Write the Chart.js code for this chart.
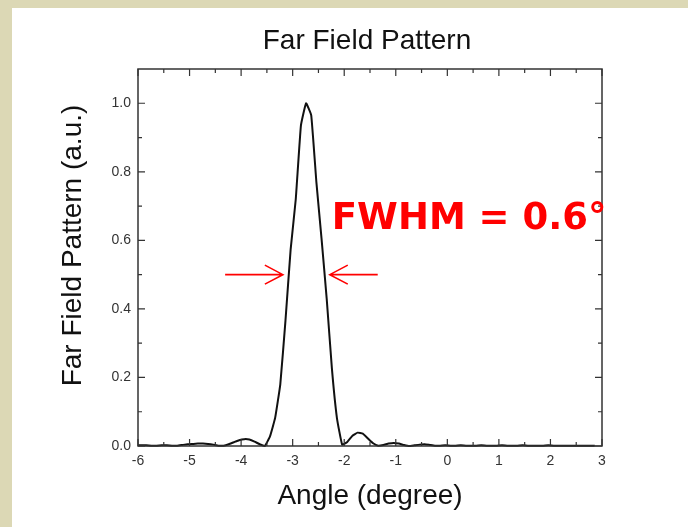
<!DOCTYPE html>
<html>
<head>
<meta charset="utf-8">
<script src="https://cdn.jsdelivr.net/npm/chart.js@4.4.1/dist/chart.umd.min.js"></script>
<style>
  html, body { margin: 0; padding: 0; background: #dcd8b5; }
  #panel { position: absolute; left: 12px; top: 8px; width: 676px; height: 519px; background: #fff; }
  canvas { display: block; }
</style>
</head>
<body>
<div id="panel"><canvas id="chart" width="676" height="519"></canvas></div>
<script>
// Angle (degree)
const angles = [
  -6.00, -5.94, -5.84, -5.74, -5.64, -5.54, -5.44, -5.34, -5.24, -5.14,
  -5.04, -4.94, -4.84, -4.74, -4.64, -4.54, -4.44, -4.34, -4.24, -4.14,
  -4.04, -3.94, -3.84, -3.74, -3.64, -3.54, -3.44, -3.34, -3.24, -3.14,
  -3.04, -2.94, -2.84, -2.74, -2.64, -2.54, -2.44, -2.34, -2.24, -2.14,
  -2.04, -1.94, -1.84, -1.74, -1.64, -1.54, -1.44, -1.34, -1.24, -1.14,
  -1.04, -0.94, -0.84, -0.74, -0.64, -0.54, -0.44, -0.34, -0.24, -0.14,
  -0.04, 0.06, 0.16, 0.26, 0.36, 0.46, 0.56, 0.66, 0.76, 0.86,
  0.96, 1.06, 1.16, 1.26, 1.36, 1.46, 1.56, 1.66, 1.76, 1.86,
  1.96, 2.06, 2.16, 2.26, 2.36, 2.46, 2.56, 2.66, 2.76, 2.86
];

// Far field pattern (a.u.)
const intensity = [
  0.002, 0.002, 0.002, 0.001, 0.001, 0.002, 0.002, 0.001, 0.001, 0.003,
  0.005, 0.006, 0.007, 0.007, 0.006, 0.004, 0.001, 0.001, 0.005, 0.011,
  0.017, 0.020, 0.019, 0.013, 0.005, 0.000, 0.028, 0.082, 0.180, 0.365,
  0.572, 0.720, 0.935, 1.000, 0.965, 0.770, 0.605, 0.430, 0.228, 0.080,
  0.004, 0.012, 0.030, 0.039, 0.036, 0.022, 0.008, 0.001, 0.003, 0.007,
  0.009, 0.007, 0.003, 0.000, 0.002, 0.004, 0.005, 0.003, 0.001, 0.001,
  0.002, 0.001, 0.001, 0.002, 0.001, 0.001, 0.001, 0.002, 0.001, 0.001,
  0.001, 0.002, 0.001, 0.001, 0.001, 0.002, 0.001, 0.001, 0.001, 0.001,
  0.002, 0.001, 0.001, 0.001, 0.001, 0.001, 0.001, 0.001, 0.001, 0.001
];

const xTicks = [-6, -5, -4, -3, -2, -1, 0, 1, 2, 3];
const yTicks = [0, 0.2, 0.4, 0.6, 0.8, 1.0];

const chartTitle = 'Far Field Pattern';
const yTitle = 'Far Field Pattern (a.u.)';

// FWHM annotation
const fwhmLabel = 'FWHM = 0.6\u00B0';
const fwhmLabelAt = [-2.24, 0.632];
const halfMax = 0.5;
const leftArrow = [-4.31, -3.19];   // tail, tip
const rightArrow = [-1.35, -2.28];  // tail, tip

const FONT = '"Liberation Sans", Arial, sans-serif';

// Titles, frame, inward ticks and the FWHM arrows
const frame = {
  id: 'frame',
  afterDatasetsDraw(chart) {
    const { ctx, chartArea: a, scales: { x, y } } = chart;
    ctx.save();

    // titles
    ctx.fillStyle = '#111';
    ctx.font = '28px ' + FONT;
    ctx.textAlign = 'center';
    ctx.textBaseline = 'middle';
    ctx.fillText(chartTitle, (a.left + a.right) / 2 - 3, 33);
    ctx.save();
    ctx.translate(61, (a.top + a.bottom) / 2 - 12);
    ctx.rotate(-Math.PI / 2);
    ctx.fillText(yTitle, 0, 0);
    ctx.restore();

    ctx.strokeStyle = '#333';
    ctx.lineWidth = 1.5;
    ctx.strokeRect(a.left, a.top, a.right - a.left, a.bottom - a.top);

    ctx.lineWidth = 1.2;
    ctx.beginPath();
    const xMinor = xTicks.slice(1).map((v, i) => (v + xTicks[i]) / 2);
    const yMinor = yTicks.slice(1).map((v, i) => (v + yTicks[i]) / 2);
    xTicks.forEach(v => {
      const px = x.getPixelForValue(v);
      ctx.moveTo(px, a.bottom); ctx.lineTo(px, a.bottom - 7);
      ctx.moveTo(px, a.top); ctx.lineTo(px, a.top + 7);
    });
    xMinor.forEach(v => {
      const px = x.getPixelForValue(v);
      ctx.moveTo(px, a.bottom); ctx.lineTo(px, a.bottom - 4);
      ctx.moveTo(px, a.top); ctx.lineTo(px, a.top + 4);
    });
    yTicks.forEach(v => {
      const py = y.getPixelForValue(v);
      ctx.moveTo(a.left, py); ctx.lineTo(a.left + 7, py);
      ctx.moveTo(a.right, py); ctx.lineTo(a.right - 7, py);
    });
    yMinor.forEach(v => {
      const py = y.getPixelForValue(v);
      ctx.moveTo(a.left, py); ctx.lineTo(a.left + 4, py);
      ctx.moveTo(a.right, py); ctx.lineTo(a.right - 4, py);
    });
    ctx.stroke();

    // arrows
    const py = y.getPixelForValue(halfMax);
    ctx.strokeStyle = '#ff0000';
    ctx.lineWidth = 1.6;
    [leftArrow, rightArrow].forEach(([tail, tip]) => {
      const t0 = x.getPixelForValue(tail);
      const t1 = x.getPixelForValue(tip);
      const dir = Math.sign(t1 - t0);
      ctx.beginPath();
      ctx.moveTo(t0, py); ctx.lineTo(t1, py);
      ctx.moveTo(t1 - dir * 18, py - 9.5); ctx.lineTo(t1, py); ctx.lineTo(t1 - dir * 18, py + 9.5);
      ctx.stroke();
    });

    ctx.fillStyle = '#ff0000';
    ctx.font = 'bold 37px "DejaVu Sans"';
    ctx.textBaseline = 'alphabetic';
    ctx.textAlign = 'left';
    ctx.fillText(fwhmLabel, x.getPixelForValue(fwhmLabelAt[0]), y.getPixelForValue(fwhmLabelAt[1]));
    ctx.restore();
  }
};

new Chart(document.getElementById('chart'), {
  type: 'line',
  data: {
    datasets: [{
      data: angles.map((a, i) => ({ x: a, y: intensity[i] })),
      borderColor: '#111',
      borderWidth: 2,
      pointRadius: 0,
      tension: 0.1,
      fill: false,
      clip: false
    }]
  },
  options: {
    responsive: false,
    animation: false,
    devicePixelRatio: 1,
    layout: { padding: { top: 61, right: 86, bottom: 0, left: 0 } },
    plugins: {
      legend: { display: false },
      tooltip: { enabled: false },
      title: { display: false }
    },
    scales: {
      x: {
        type: 'linear',
        min: -6,
        max: 3,
        afterFit: s => { s.height = 81; },
        afterBuildTicks: s => { s.ticks = xTicks.map(v => ({ value: v })); },
        grid: { display: false, drawTicks: false },
        border: { display: false },
        ticks: {
          padding: 7,
          color: '#333',
          font: { family: FONT, size: 14 },
          callback: v => String(v)
        },
        title: {
          display: true,
          text: 'Angle (degree)',
          color: '#111',
          font: { family: FONT, size: 28 },
          padding: { top: 0, bottom: 14 }
        }
      },
      y: {
        min: 0,
        max: 1.1,
        afterFit: s => { s.width = 126; },
        afterBuildTicks: s => { s.ticks = yTicks.map(v => ({ value: v })); },
        grid: { display: false, drawTicks: false },
        border: { display: false },
        ticks: {
          padding: 7,
          color: '#333',
          font: { family: FONT, size: 14 },
          callback: v => v.toFixed(1)
        },
        title: { display: false }
      }
    }
  },
  plugins: [frame]
});
</script>
</body>
</html>
